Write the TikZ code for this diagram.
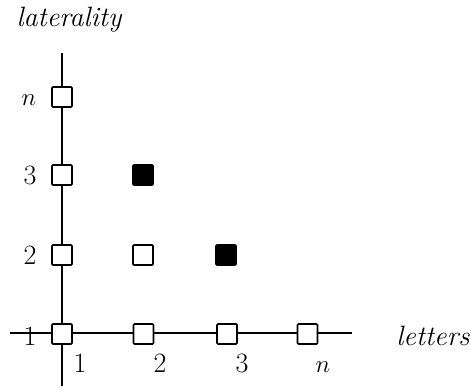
\documentclass[tikz,border=0pt]{standalone}
\begin{document}
\begin{tikzpicture}[x=1pt,y=-1pt,
  cell/.style={draw,line width=1.6pt,fill=white,minimum size=20pt,inner sep=0pt,rounded corners=1pt},
  full/.style={cell,fill=black},
  axis/.style={line width=1.4pt},
  lbl/.style={anchor=base,inner sep=0pt,font=\fontsize{28}{32}\selectfont}]
\useasboundingbox (0,0) rectangle (471,388);
% axes
\coordinate (vtop) at (62,53);
\coordinate (vbot) at (62,386);
\coordinate (hl) at (10,333);
\coordinate (hr) at (352,333);
\draw[axis] (vtop) -- (vbot);
\draw[axis] (hl) -- (hr);
% cells on the axes
\node[cell] (c11) at (62,334) {};
\node[cell] (c21) at (143.5,334) {};
\node[cell] (c31) at (227,334) {};
\node[cell] (cn1) at (307.5,334) {};
\node[cell] (c12) at (62,255) {};
\node[cell] (c13) at (62,175) {};
\node[cell] (c1n) at (62,97) {};
% inner cells
\node[cell] (c22) at (143,255) {};
\node[full] (c23) at (143,175) {};
\node[full] (c32) at (226,255) {};
% axis titles
\node[lbl] (tlat) at (69,27) {\itshape laterality};
\node[lbl] (tlet) at (433,345) {\itshape letters};
% row numbers
\node[lbl] (rn) at (29,105) {$n$};
\node[lbl] (r3) at (30,184) {3};
\node[lbl] (r2) at (30,264) {2};
\node[lbl] (r1) at (30,345) {1};
% column numbers
\node[lbl] (k1) at (80,372) {1};
\node[lbl] (k2) at (160,372) {2};
\node[lbl] (k3) at (242,372) {3};
\node[lbl] (kn) at (323,372) {$n$};
\end{tikzpicture}
\end{document}
